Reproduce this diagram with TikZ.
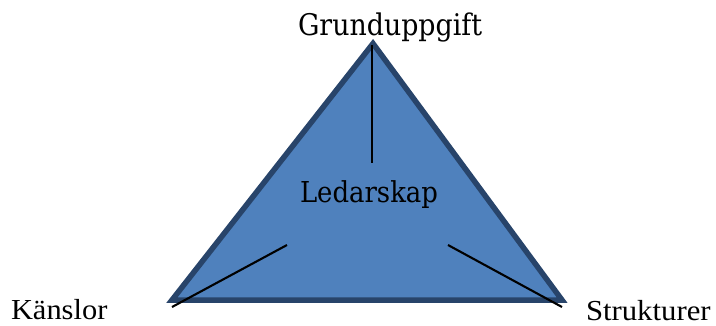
\documentclass[tikz,border=0pt]{standalone}
\usepackage{fontspec}
\usepackage{graphicx}
\setmainfont{Liberation Serif}
\newfontfamily\cambfont{DejaVu Serif Condensed}
\definecolor{trifill}{HTML}{4F81BD}
\definecolor{triedge}{HTML}{28446A}
\tikzset{
  spoke/.style={draw=black, line width=2.1pt},
  lbl/.style={anchor=base west, inner sep=0pt, outer sep=0pt, text=black},
}
\begin{document}
\begin{tikzpicture}[x=1pt,y=-1pt]
\useasboundingbox (0,0) rectangle (716,325);
\coordinate (top) at (373,43.5);
\coordinate (bl) at (172,300);
\coordinate (br) at (562,300);
\draw[fill=trifill, draw=triedge, line width=5.5pt, line join=miter] (top) -- (bl) -- (br) -- cycle;
\coordinate (vtop) at (372,45);
\coordinate (vend) at (372,163);
\coordinate (lout) at (172,307);
\coordinate (lin) at (287,245);
\coordinate (rin) at (448,245);
\coordinate (rout) at (562,307);
\draw[spoke] (vtop) -- (vend);
\draw[spoke] (lout) -- (lin);
\draw[spoke] (rin) -- (rout);
\node[lbl] (grund) at (298,35) {\resizebox{184pt}{!}{\cambfont Grunduppgift}};
\node[lbl] (ledar) at (300,202) {\resizebox{138pt}{!}{\cambfont Ledarskap}};
\node[lbl] (kansl) at (11,319) {\scalebox{1.05}[1]{\fontsize{29}{32}\selectfont Känslor}};
\node[lbl] (struk) at (586,320) {\scalebox{1.06}[1]{\fontsize{29}{32}\selectfont Strukturer}};
\end{tikzpicture}
\end{document}
